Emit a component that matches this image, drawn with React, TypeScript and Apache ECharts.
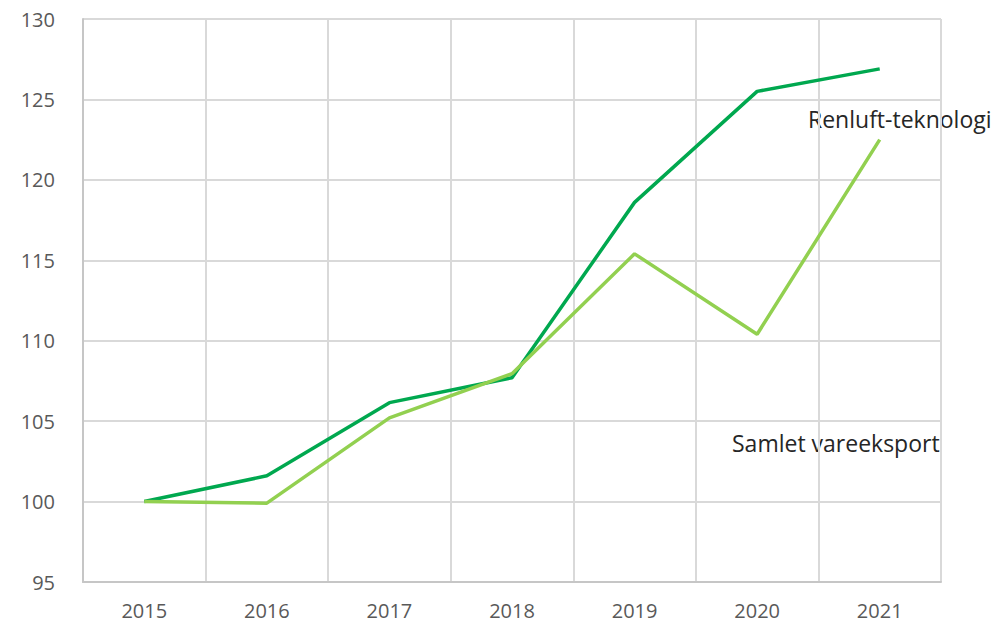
import React, { useEffect, useRef } from "react";
import * as echarts from "echarts";

const years = ["2015", "2016", "2017", "2018", "2019", "2020", "2021"];
const renluft = [100, 101.6, 106.15, 107.7, 118.6, 125.5, 126.9];
const samlet = [100, 99.9, 105.2, 107.95, 115.4, 110.4, 122.5];
const seriesNames = ["Renluft-teknologi", "Samlet vareeksport"];

export default function App() {
  const ref = useRef<HTMLDivElement>(null);
  useEffect(() => {
    if (!ref.current) return;
    const chart = echarts.init(ref.current, null, { renderer: "svg" });
    const font = "'Open Sans', sans-serif";
    chart.setOption({
      animation: false,
      backgroundColor: "#ffffff",
      grid: { left: 83, right: 57, top: 19, bottom: 41, containLabel: false },
      xAxis: {
        type: "category",
        data: years,
        boundaryGap: true,
        axisLine: { show: true, lineStyle: { color: "#c6c6c6", width: 2 } },
        axisTick: { show: false },
        splitLine: { show: true, lineStyle: { color: "#d9d9d9", width: 2 } },
        axisLabel: { color: "#595959", fontSize: 20, fontFamily: font, margin: 18 },
      },
      yAxis: {
        type: "value",
        min: 95,
        max: 130,
        interval: 5,
        axisLine: { show: true, lineStyle: { color: "#c6c6c6", width: 2 } },
        axisTick: { show: false },
        splitLine: { show: true, lineStyle: { color: "#d9d9d9", width: 2 } },
        axisLabel: { color: "#595959", fontSize: 20, fontFamily: font, margin: 28 },
      },
      series: [
        {
          name: seriesNames[0],
          type: "line",
          data: renluft,
          symbol: "none",
          lineStyle: { color: "#00a84f", width: 3.5 },
          itemStyle: { color: "#00a84f" },
        },
        {
          name: seriesNames[1],
          type: "line",
          data: samlet,
          symbol: "none",
          lineStyle: { color: "#92d050", width: 3.5 },
          itemStyle: { color: "#92d050" },
        },
      ],
      graphic: [
        {
          type: "text",
          left: 808,
          top: 107,
          style: { text: seriesNames[0], fill: "#262626", font: `23px ${font}` },
        },
        {
          type: "text",
          left: 732,
          top: 431,
          style: { text: seriesNames[1], fill: "#262626", font: `23px ${font}` },
        },
      ],
    });
    return () => chart.dispose();
  }, []);
  return (
    <div
      ref={ref}
      style={{ position: "fixed", left: 0, top: 0, width: 998, height: 623 }}
    />
  );
}
